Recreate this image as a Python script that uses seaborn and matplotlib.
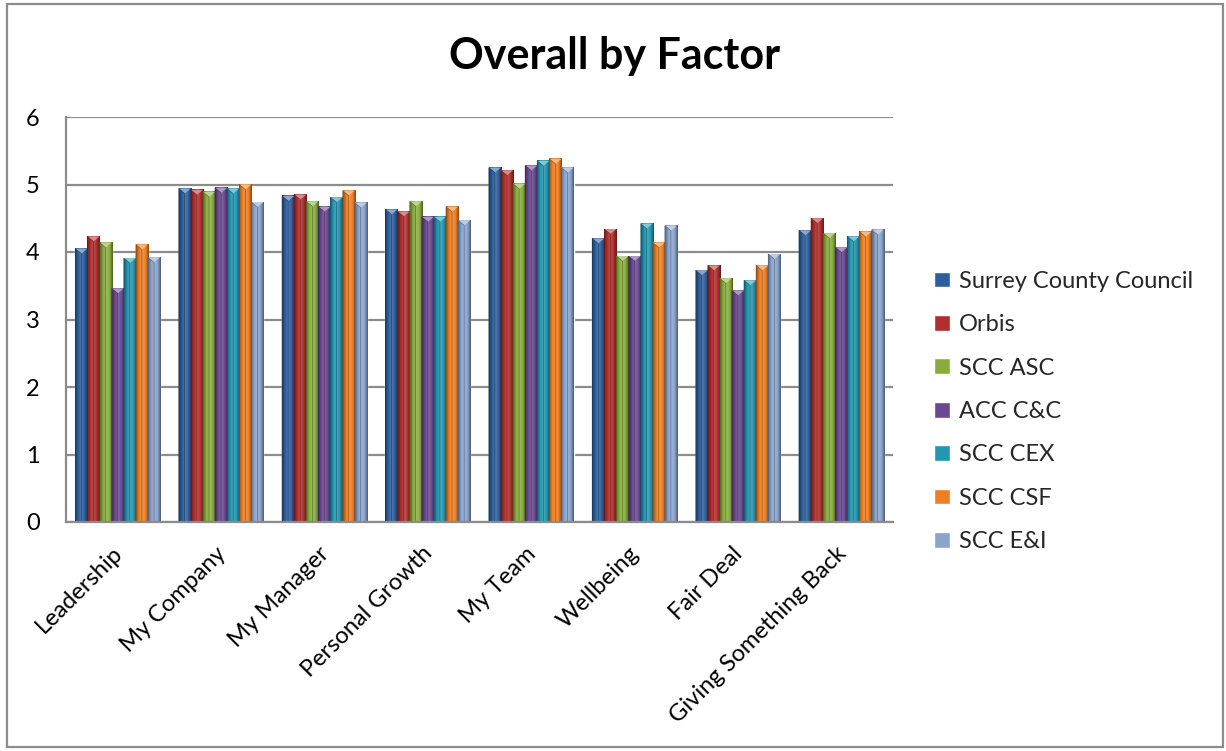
import numpy as np
import pandas as pd
import matplotlib
matplotlib.use("Agg")
import matplotlib.pyplot as plt
import matplotlib.transforms as mtransforms
import seaborn as sns
from matplotlib.colors import LinearSegmentedColormap, to_rgb
from matplotlib.patches import Polygon, Rectangle

# Survey factors and the average score of each organisation unit
factors = ["Leadership", "My Company", "My Manager", "Personal Growth",
           "My Team", "Wellbeing", "Fair Deal", "Giving Something Back"]
surrey_cc = [4.05, 4.94, 4.83, 4.63, 5.25, 4.20, 3.73, 4.32]
orbis     = [4.23, 4.92, 4.85, 4.60, 5.21, 4.34, 3.80, 4.50]
scc_asc   = [4.14, 4.89, 4.75, 4.75, 5.01, 3.94, 3.61, 4.28]
acc_cc    = [3.46, 4.95, 4.67, 4.52, 5.28, 3.94, 3.43, 4.07]
scc_cex   = [3.91, 4.94, 4.81, 4.52, 5.35, 4.42, 3.58, 4.23]
scc_csf   = [4.11, 5.00, 4.91, 4.67, 5.38, 4.14, 3.80, 4.30]
scc_ei    = [3.92, 4.74, 4.73, 4.47, 5.25, 4.39, 3.97, 4.33]

series_names = ["Surrey County Council", "Orbis", "SCC ASC", "ACC C&C",
                "SCC CEX", "SCC CSF", "SCC E&I"]
series_values = [surrey_cc, orbis, scc_asc, acc_cc, scc_cex, scc_csf, scc_ei]
colors = ["#2D5F9C", "#B02E2D", "#88AD3D", "#6A4890", "#2396B1", "#EE7F22", "#8AA4CD"]

rows = []
for name, vals in zip(series_names, series_values):
    for f, v in zip(factors, vals):
        rows.append({"Factor": f, "Group": name, "Score": v})
df = pd.DataFrame(rows)

sns.set_theme(style="white")
plt.rcParams["font.family"] = ["Lato", "DejaVu Sans"]

fig = plt.figure(figsize=(12.26, 7.51), dpi=100)
ax = fig.add_axes([66 / 1226, 1 - 522 / 751, (893 - 66) / 1226, (522 - 117) / 751])

sns.barplot(data=df, x="Factor", y="Score", hue="Group", order=factors,
            hue_order=series_names, palette=colors, saturation=1,
            width=0.82, ax=ax, zorder=3, legend=True)

# Bevelled look: shaded column body and a light cap triangle on each bar
bars = [p for p in ax.patches if isinstance(p, Rectangle) and p.get_height() > 0]
cap = 0.075
for p in bars:
    x0, w, h = p.get_x(), p.get_width(), p.get_height()
    base = np.array(to_rgb(p.get_facecolor()))
    dark = base * 0.62
    light = np.clip(base + (1 - base) * 0.18, 0, 1)
    cmap = LinearSegmentedColormap.from_list(
        "bevel", [dark, base, light, base, dark * 0.9])
    grad = np.linspace(0, 1, 64).reshape(1, -1)
    ax.imshow(grad, cmap=cmap, extent=[x0, x0 + w, 0, h], aspect="auto",
              zorder=4, interpolation="bilinear")
    tip = np.clip(base + (1 - base) * 0.45, 0, 1)
    ax.add_patch(Polygon([[x0, h], [x0 + w, h], [x0 + w / 2, h - cap]],
                         closed=True, facecolor=tip, edgecolor="none", zorder=5))
    ax.add_patch(Polygon([[x0, h], [x0 + w / 2, h - cap], [x0 + w / 2, 0], [x0, 0]],
                         closed=True, facecolor="none", edgecolor=dark * 0.9,
                         linewidth=0.4, zorder=5))

ax.set_xlim(-0.5, len(factors) - 0.5)
ax.set_ylim(0, 6)
ax.set_yticks(range(0, 7))
ax.set_xlabel("")
ax.set_ylabel("")
ax.yaxis.grid(True, color="#8C8C8C", linewidth=1.6, zorder=0)
ax.set_axisbelow(True)
for side in ["top", "right"]:
    ax.spines[side].set_visible(False)
for side in ["left", "bottom"]:
    ax.spines[side].set_color("#8C8C8C")
    ax.spines[side].set_linewidth(1.6)
    ax.spines[side].set_zorder(6)

ax.tick_params(axis="y", length=0, pad=19, labelsize=17, colors="black")
ax.tick_params(axis="x", length=0, pad=15, labelsize=17, colors="black")
shift = mtransforms.ScaledTranslation(-6 / 100, 0, fig.dpi_scale_trans)
for lab in ax.get_xticklabels():
    lab.set_rotation(45)
    lab.set_ha("right")
    lab.set_va("top")
    lab.set_rotation_mode("anchor")
    lab.set_transform(lab.get_transform() + shift)

fig.text(0.501, 0.925, "Overall by Factor", ha="center", va="center",
         fontsize=31, fontweight="bold", color="black")

sns.move_legend(ax, "center left", bbox_to_anchor=(0.762, 0.452),
                bbox_transform=fig.transFigure, frameon=False, title=None,
                fontsize=17, handlelength=0.65, handleheight=0.65,
                handletextpad=0.4, labelspacing=0.95, borderaxespad=0,
                borderpad=0)

# Chart border
fig.add_artist(Rectangle((7 / 1226, 4 / 751), 1216 / 1226, 743 / 751,
                         transform=fig.transFigure, fill=False,
                         edgecolor="#8C8C8C", linewidth=1.6))

fig.savefig("out.png", dpi=100)
